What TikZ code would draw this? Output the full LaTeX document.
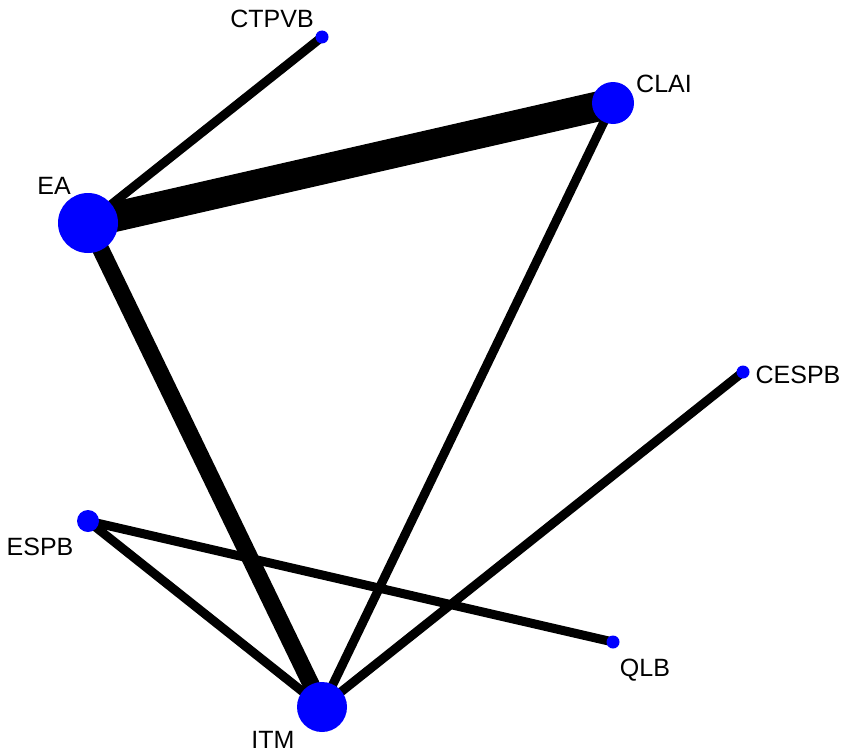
\documentclass[tikz,border=0pt]{standalone}
\usepackage{fontspec}
\setmainfont{Liberation Sans}
\usetikzlibrary{backgrounds}
\definecolor{nodeblue}{RGB}{0,0,255}
\begin{document}
\begin{tikzpicture}[x=1pt,y=-1pt,
  vert/.style={circle,fill=nodeblue,draw=none,inner sep=0pt},
  lab/.style={anchor=base,inner sep=0pt,font=\fontsize{25}{30}\selectfont},
  thinedge/.style={line width=9pt,black},
  midedge/.style={line width=17pt,black},
  bigedge/.style={line width=30pt,black}]
\useasboundingbox (0,0) rectangle (850,752);
\node[vert,minimum size=13pt] (CTPVB) at (322,37) {};
\node[vert,minimum size=42pt] (CLAI) at (613,103) {};
\node[vert,minimum size=60pt] (EA) at (88,223) {};
\node[vert,minimum size=13pt] (CESPB) at (743,372) {};
\node[vert,minimum size=22pt] (ESPB) at (88,521) {};
\node[vert,minimum size=13pt] (QLB) at (613,642) {};
\node[vert,minimum size=50pt] (ITM) at (322,707) {};
\node[lab] (lCTPVB) at (272,28) {CTPVB};
\node[lab] (lCLAI) at (664,92) {CLAI};
\node[lab] (lEA) at (54,194) {EA};
\node[lab] (lCESPB) at (798,383) {CESPB};
\node[lab] (lESPB) at (40,555) {ESPB};
\node[lab] (lQLB) at (645,676) {QLB};
\node[lab] (lITM) at (273,748) {ITM};
\begin{pgfonlayer}{background}
\draw[thinedge] (EA.center) -- (CTPVB.center);
\draw[bigedge] (EA.center) -- (CLAI.center);
\draw[midedge] (EA.center) -- (ITM.center);
\draw[thinedge] (CLAI.center) -- (ITM.center);
\draw[thinedge] (CESPB.center) -- (ITM.center);
\draw[thinedge] (ESPB.center) -- (QLB.center);
\draw[thinedge] (ESPB.center) -- (ITM.center);
\end{pgfonlayer}
\end{tikzpicture}
\end{document}
